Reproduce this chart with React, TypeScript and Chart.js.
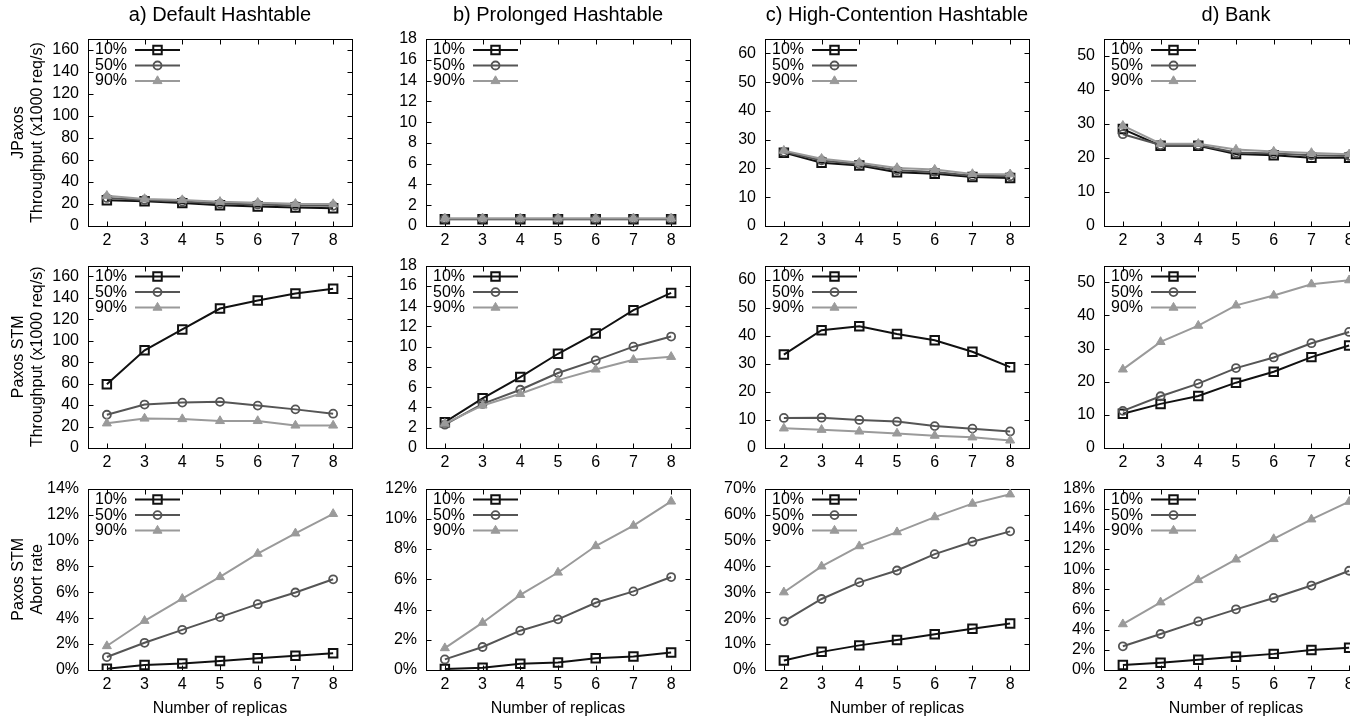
import React, { useEffect, useRef } from "react";
import { Chart, registerables } from "chart.js";
import { drawPoint } from "chart.js/helpers";

Chart.register(...registerables);

const FONT = "'Liberation Sans', Arial, Helvetica, sans-serif";
Chart.defaults.font.family = FONT;
Chart.defaults.font.size = 16;
Chart.defaults.color = "#000";

// ---------------- data ----------------
const replicas = ["2", "3", "4", "5", "6", "7", "8"];
const seriesNames = ["10%", "50%", "90%"];
const panelTitles = ["a) Default Hashtable", "b) Prolonged Hashtable", "c) High-Contention Hashtable", "d) Bank"];
const rowAxisTitles = [
  ["JPaxos", "Throughput (x1000 req/s)"],
  ["Paxos STM", "Throughput (x1000 req/s)"],
  ["Paxos STM", "Abort rate"],
];
const xAxisTitle = "Number of replicas";

const throughputMax = [170, 18, 65, 55];
const throughputStep = [20, 2, 10, 10];
const abortMax = [14, 12, 70, 18];
const abortStep = [2, 2, 10, 2];

// JPaxos throughput
const jpDefault10 = [23.5, 22.5, 20.8, 18.8, 17.8, 16.8, 16.2];
const jpDefault50 = [25.5, 23.7, 22.3, 20.4, 19.6, 18.6, 18.3];
const jpDefault90 = [27.5, 24.6, 23.6, 22.0, 21.2, 20.2, 20.0];
const jpProlonged10 = [0.65, 0.65, 0.65, 0.65, 0.65, 0.65, 0.65];
const jpProlonged50 = [0.7, 0.7, 0.7, 0.7, 0.7, 0.7, 0.7];
const jpProlonged90 = [0.72, 0.72, 0.72, 0.72, 0.72, 0.72, 0.72];
const jpContention10 = [25.5, 22.0, 21.0, 18.7, 18.2, 17.0, 16.7];
const jpContention50 = [25.8, 22.8, 21.5, 19.4, 18.8, 17.5, 17.3];
const jpContention90 = [26.2, 23.4, 22.0, 20.2, 19.6, 18.1, 18.0];
const jpBank10 = [28.5, 23.6, 23.6, 21.2, 20.8, 20.1, 20.1];
const jpBank50 = [27.0, 23.8, 23.8, 21.6, 21.3, 20.8, 20.6];
const jpBank90 = [29.5, 24.2, 24.2, 22.5, 21.9, 21.5, 21.1];

// Paxos STM throughput
const stmDefault10 = [59.5, 91.0, 110.5, 130.0, 137.5, 144.0, 148.5];
const stmDefault50 = [31.0, 40.5, 42.3, 43.0, 39.5, 36.0, 32.0];
const stmDefault90 = [23.0, 27.5, 27.0, 25.2, 25.2, 21.0, 21.0];
const stmProlonged10 = [2.55, 4.9, 7.0, 9.3, 11.3, 13.6, 15.3];
const stmProlonged50 = [2.3, 4.35, 5.75, 7.4, 8.65, 10.0, 11.0];
const stmProlonged90 = [2.4, 4.2, 5.35, 6.7, 7.75, 8.7, 9.0];
const stmContention10 = [33.3, 42.0, 43.4, 40.6, 38.4, 34.3, 28.8];
const stmContention50 = [10.7, 10.8, 10.0, 9.4, 7.8, 6.9, 5.9];
const stmContention90 = [7.0, 6.5, 5.9, 5.2, 4.4, 3.8, 2.7];
const stmBank10 = [10.3, 13.3, 15.7, 19.7, 23.0, 27.4, 30.9];
const stmBank50 = [11.2, 15.6, 19.4, 24.1, 27.3, 31.6, 35.0];
const stmBank90 = [23.7, 32.0, 36.9, 43.0, 46.0, 49.4, 50.6];

// Paxos STM abort rate (%)
const abortDefault10 = [0.1, 0.38, 0.5, 0.7, 0.9, 1.1, 1.3];
const abortDefault50 = [1.0, 2.1, 3.1, 4.08, 5.08, 5.98, 7.0];
const abortDefault90 = [1.85, 3.8, 5.5, 7.18, 8.98, 10.55, 12.05];
const abortProlonged10 = [0.07, 0.15, 0.42, 0.5, 0.78, 0.9, 1.15];
const abortProlonged50 = [0.7, 1.52, 2.6, 3.35, 4.45, 5.2, 6.15];
const abortProlonged90 = [1.45, 3.13, 4.97, 6.45, 8.2, 9.55, 11.15];
const abortContention10 = [3.7, 7.0, 9.5, 11.6, 13.8, 15.9, 17.9];
const abortContention50 = [18.8, 27.4, 33.8, 38.4, 44.7, 49.5, 53.5];
const abortContention90 = [30.0, 40.0, 47.8, 53.2, 59.0, 64.2, 67.8];
const abortBank10 = [0.5, 0.72, 1.02, 1.32, 1.6, 1.98, 2.2];
const abortBank50 = [2.35, 3.57, 4.82, 6.02, 7.15, 8.38, 9.85];
const abortBank90 = [4.55, 6.72, 8.93, 10.97, 13.0, 14.95, 16.7];

const gridData = [
  [
    [jpDefault10, jpDefault50, jpDefault90],
    [jpProlonged10, jpProlonged50, jpProlonged90],
    [jpContention10, jpContention50, jpContention90],
    [jpBank10, jpBank50, jpBank90],
  ],
  [
    [stmDefault10, stmDefault50, stmDefault90],
    [stmProlonged10, stmProlonged50, stmProlonged90],
    [stmContention10, stmContention50, stmContention90],
    [stmBank10, stmBank50, stmBank90],
  ],
  [
    [abortDefault10, abortDefault50, abortDefault90],
    [abortProlonged10, abortProlonged50, abortProlonged90],
    [abortContention10, abortContention50, abortContention90],
    [abortBank10, abortBank50, abortBank90],
  ],
];

// ---------------- layout & style ----------------
const PLOT_LEFTS = [88, 426, 765, 1104];
const PLOT_TOPS = [39, 262, 485];
const PLOT_HEIGHTS = [187, 186, 185];
const PLOT_W = 264;
const Y_AXIS_W = 88;
const RIGHT_PAD = 12;
const TOP_PADS = [39, 15, 15];
const X_AXIS_H = [30, 30, 52];

const lineColors = ["#111111", "#555555", "#9a9a9a"];
const pointFills = ["rgba(0,0,0,0)", "rgba(0,0,0,0)", "#9a9a9a"];
const pointStyles = ["rect", "circle", "triangle"];
const pointRadii = [6, 4, 5.2];
const pointBorderWidths = [2, 1.8, 1];

const framePlugin = {
  id: "gnuFrame",
  beforeDatasetsDraw(chart: any) {
    const { ctx, chartArea: a, scales } = chart;
    const L = 5;
    ctx.save();
    ctx.strokeStyle = "#000";
    ctx.lineWidth = 1;
    const l = Math.round(a.left) + 0.5;
    const r = Math.round(a.right) + 0.5;
    const t = Math.round(a.top) + 0.5;
    const b = Math.round(a.bottom) + 0.5;
    ctx.strokeRect(l, t, r - l, b - t);
    ctx.beginPath();
    scales.x.ticks.forEach((_: any, i: number) => {
      const px = Math.round(scales.x.getPixelForTick(i)) + 0.5;
      ctx.moveTo(px, b);
      ctx.lineTo(px, b - L);
      ctx.moveTo(px, t);
      ctx.lineTo(px, t + L);
    });
    scales.y.ticks.forEach((tk: any) => {
      const py = Math.round(scales.y.getPixelForValue(tk.value)) + 0.5;
      ctx.moveTo(l, py);
      ctx.lineTo(l + L, py);
      ctx.moveTo(r, py);
      ctx.lineTo(r - L, py);
    });
    ctx.stroke();
    ctx.restore();
  },
};

const keyPlugin = {
  id: "gnuKey",
  afterDatasetsDraw(chart: any) {
    const { ctx, chartArea: a } = chart;
    chart.data.datasets.forEach((ds: any, i: number) => {
      const y = a.top + 11 + i * 15.5;
      ctx.save();
      ctx.font = `16px ${FONT}`;
      ctx.fillStyle = "#000";
      ctx.textAlign = "left";
      ctx.textBaseline = "middle";
      ctx.fillText(ds.label, a.left + 7, y);
      ctx.strokeStyle = ds.borderColor;
      ctx.lineWidth = ds.borderWidth;
      ctx.beginPath();
      ctx.moveTo(a.left + 47, y);
      ctx.lineTo(a.left + 92, y);
      ctx.stroke();
      ctx.fillStyle = ds.pointBackgroundColor;
      ctx.strokeStyle = ds.pointBorderColor;
      ctx.lineWidth = ds.pointBorderWidth;
      drawPoint(
        ctx,
        { pointStyle: ds.pointStyle, radius: ds.pointRadius, borderWidth: ds.pointBorderWidth, rotation: 0 } as any,
        a.left + 69.5,
        y
      );
      ctx.restore();
    });
  },
};

function Panel({ row, col }: { row: number; col: number }) {
  const ref = useRef<HTMLCanvasElement>(null);
  const width = Y_AXIS_W + PLOT_W + RIGHT_PAD;
  const height = TOP_PADS[row] + PLOT_HEIGHTS[row] + X_AXIS_H[row];
  const left = PLOT_LEFTS[col] - Y_AXIS_W;
  const top = PLOT_TOPS[row] - TOP_PADS[row];

  useEffect(() => {
    if (!ref.current) return;
    const isAbort = row === 2;
    const series = gridData[row][col];
    const chart = new Chart(ref.current, {
      type: "line",
      data: {
        labels: replicas,
        datasets: series.map((vals, i) => ({
          label: seriesNames[i],
          data: vals,
          borderColor: lineColors[i],
          backgroundColor: pointFills[i],
          borderWidth: 2,
          pointStyle: pointStyles[i] as any,
          pointRadius: pointRadii[i],
          pointBorderWidth: pointBorderWidths[i],
          pointBackgroundColor: pointFills[i],
          pointBorderColor: lineColors[i],
          tension: 0,
          order: 2 - i,
        })),
      },
      options: {
        responsive: false,
        animation: false,
        devicePixelRatio: 1,
        events: [],
        layout: { padding: { top: row === 0 ? 0 : TOP_PADS[row], right: RIGHT_PAD, left: 0, bottom: 0 } },
        plugins: {
          legend: { display: false },
          tooltip: { enabled: false },
          title: {
            display: row === 0,
            text: panelTitles[col],
            fullSize: false,
            color: "#000",
            font: { size: 20, weight: "normal", family: FONT, lineHeight: 1.2 },
            padding: { top: 3, bottom: 12 },
          },
        },
        scales: {
          x: {
            type: "category",
            offset: true,
            grid: { display: false, drawTicks: false },
            border: { display: false },
            ticks: { padding: 5, color: "#000", font: { size: 16 }, maxRotation: 0, autoSkip: false },
            title: {
              display: isAbort,
              text: xAxisTitle,
              color: "#000",
              font: { size: 16, lineHeight: 1.2 },
              padding: { top: 0, bottom: 4 },
            },
            afterFit: (s: any) => {
              s.height = X_AXIS_H[row];
            },
          },
          y: {
            type: "linear",
            min: 0,
            max: isAbort ? abortMax[col] : throughputMax[col],
            grid: { display: false, drawTicks: false },
            border: { display: false },
            ticks: {
              stepSize: isAbort ? abortStep[col] : throughputStep[col],
              includeBounds: false,
              autoSkip: false,
              padding: 9,
              color: "#000",
              font: { size: 16 },
              callback: (v: any) => (isAbort ? `${v}%` : `${v}`),
            },
            title: {
              display: col === 0,
              text: rowAxisTitles[row],
              color: "#000",
              font: { size: 16, lineHeight: 1.2 },
              padding: { top: 9, bottom: 0 },
            },
            afterFit: (s: any) => {
              s.width = Y_AXIS_W;
            },
          },
        },
      } as any,
      plugins: [framePlugin, keyPlugin],
    });
    return () => chart.destroy();
  }, [row, col]);

  return (
    <canvas
      ref={ref}
      width={width}
      height={height}
      style={{ position: "absolute", left, top, width, height }}
    />
  );
}

export default function App() {
  const cells: React.ReactNode[] = [];
  for (let r = 0; r < 3; r++) {
    for (let c = 0; c < 4; c++) {
      cells.push(<Panel key={`${r}-${c}`} row={r} col={c} />);
    }
  }
  return (
    <div
      style={{
        position: "absolute",
        left: 0,
        top: 0,
        width: 1350,
        height: 722,
        overflow: "hidden",
        background: "#fff",
      }}
    >
      {cells}
    </div>
  );
}
